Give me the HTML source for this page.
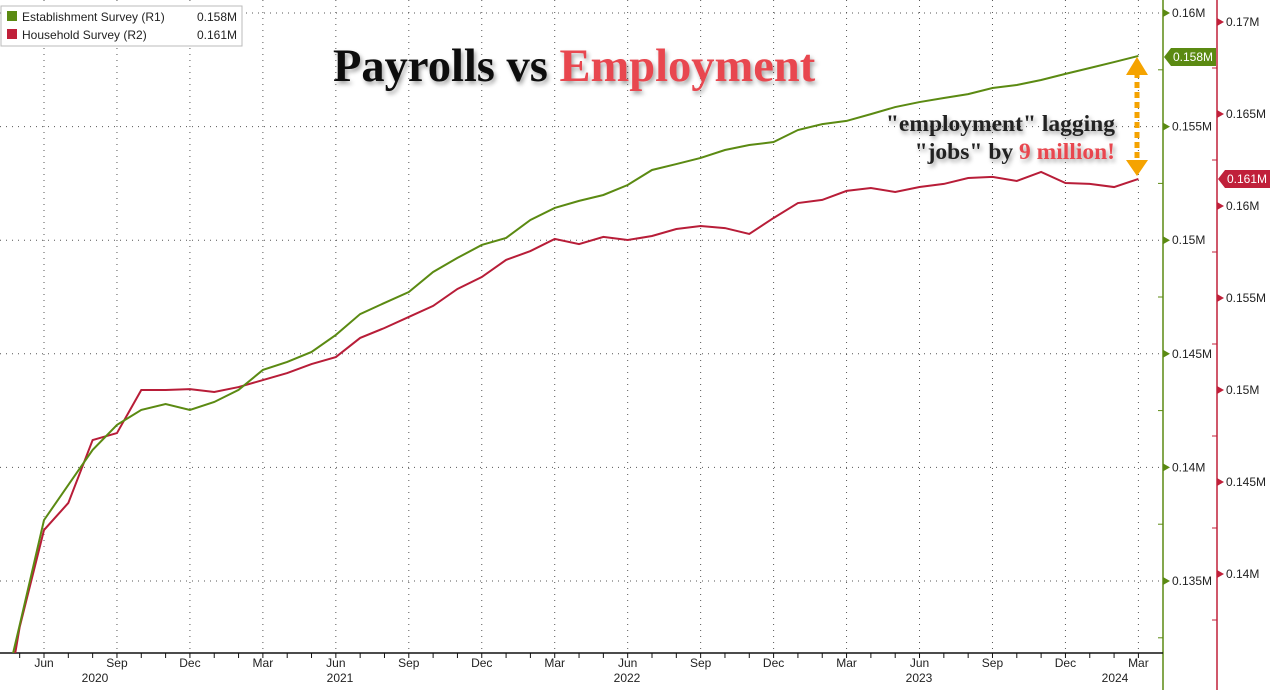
<!DOCTYPE html>
<html><head><meta charset="utf-8"><style>
html,body{margin:0;padding:0;overflow:hidden}
body{background:#fff;width:1271px;height:690px;font-family:"Liberation Sans",sans-serif}
svg{display:block}
svg text{font-family:"Liberation Sans",sans-serif}
</style></head><body>
<svg id="c" width="1271" height="690" xmlns="http://www.w3.org/2000/svg">
<defs><filter id="sh" x="-5%" y="-20%" width="110%" height="150%"><feDropShadow dx="2" dy="3" stdDeviation="2" flood-color="#000" flood-opacity="0.35"/></filter></defs>
<g id="grid"></g>
<g id="axes"></g>
<g id="series"></g>
<g id="legend">
<rect x="1" y="6" width="241" height="40" fill="#fff" stroke="#bbb"/>
<rect x="7" y="11" width="10" height="10" fill="#5b8a12"/>
<text x="22" y="21" font-size="12" fill="#222">Establishment Survey (R1)</text>
<text x="197" y="21" font-size="12" fill="#222">0.158M</text>
<rect x="7" y="29" width="10" height="10" fill="#c0203a"/>
<text x="22" y="39" font-size="12" fill="#222">Household Survey (R2)</text>
<text x="197" y="39" font-size="12" fill="#222">0.161M</text>
</g>
<text x="333" y="81" font-size="46.5" font-weight="bold" style="font-family:'Liberation Serif',serif" fill="#111" filter="url(#sh)">Payrolls vs <tspan fill="#e8474f">Employment</tspan></text>
<text x="1115" y="131" text-anchor="end" font-size="23.5" font-weight="bold" style="font-family:'Liberation Serif',serif" fill="#222" filter="url(#sh)">"employment" lagging</text>
<text x="1115" y="159" text-anchor="end" font-size="23.5" font-weight="bold" style="font-family:'Liberation Serif',serif" fill="#222" filter="url(#sh)">"jobs" by <tspan fill="#e8474f">9 million!</tspan></text>
<g>
<line x1="1137" y1="72" x2="1137" y2="162" stroke="#f5a300" stroke-width="5" stroke-dasharray="6,4"/>
<polygon points="1126,75 1148,75 1137,57" fill="#f5a300"/>
<polygon points="1126,160 1148,160 1137,176" fill="#f5a300"/>
</g>
</svg>
<script>
const months=["Apr 2020","May","Jun","Jul","Aug","Sep","Oct","Nov","Dec","Jan 2021","Feb","Mar","Apr","May","Jun","Jul","Aug","Sep","Oct","Nov","Dec","Jan 2022","Feb","Mar","Apr","May","Jun","Jul","Aug","Sep","Oct","Nov","Dec","Jan 2023","Feb","Mar","Apr","May","Jun","Jul","Aug","Sep","Oct","Nov","Dec","Jan 2024","Feb","Mar"];
const establishment=[128.5,133.06,137.68,139.23,140.77,141.87,142.53,142.79,142.53,142.88,143.41,144.29,144.64,145.08,145.83,146.75,147.24,147.72,148.60,149.22,149.79,150.10,150.89,151.42,151.73,151.99,152.43,153.09,153.35,153.62,153.97,154.19,154.32,154.85,155.11,155.25,155.55,155.86,156.08,156.26,156.43,156.70,156.83,157.05,157.32,157.58,157.84,158.11];
const household=[129.35,137.12,142.39,143.86,147.28,147.66,150.00,150.00,150.05,149.89,150.16,150.54,150.92,151.41,151.79,152.83,153.37,153.97,154.57,155.49,156.14,157.07,157.55,158.21,157.93,158.32,158.15,158.37,158.75,158.91,158.80,158.48,159.35,160.16,160.33,160.82,160.98,160.76,161.03,161.20,161.52,161.58,161.36,161.85,161.25,161.20,161.03,161.47];
const leftTicks=[135,140,145,150,155,160];
const rightTicks=[140,145,150,155,160,165,170];
const xTickLabels=["Jun","Sep","Dec","Mar"];
const yearLabels=["2020","2021","2022","2023","2024"];
const NS="http://www.w3.org/2000/svg";
const x=i=>44+(i-2)*24.32;
const yG=v=>13+(160-v)*113.6/5;
const yR=v=>22+(170-v)*92/5;
function mk(tag,attrs,parent){const e=document.createElementNS(NS,tag);for(const k in attrs)e.setAttribute(k,attrs[k]);parent.appendChild(e);return e;}
const grid=document.getElementById('grid'),axes=document.getElementById('axes'),ser=document.getElementById('series');
const lab=v=>'0.'+(v%10===0?String(v/10):String(v))+'M';
leftTicks.forEach(v=>{
 const y=yG(v);
 const l=mk('line',{x1:0,x2:1162,y1:y,y2:y,stroke:'#555','stroke-dasharray':'1,5'},grid);
 
 
 const p=mk('polygon',{points:`1163,${y-4} 1170,${y} 1163,${y+4}`,fill:'#5b8a12'},axes);
 
 
 const t=mk('text',{x:1172,y:y+4,'font-size':12,fill:'#222'},axes);
 t.textContent=lab(v);
 
 
 const m=mk('line',{x1:1158,x2:1163,y1:yG(v-2.5),y2:yG(v-2.5),stroke:'#5b8a12'},axes);
 
 
});
rightTicks.forEach(v=>{
 const y=yR(v);
 const p=mk('polygon',{points:`1217,${y-4} 1224,${y} 1217,${y+4}`,fill:'#c0203a'},axes);
 
 
 const t=mk('text',{x:1226,y:y+4,'font-size':12,fill:'#222'},axes);
 t.textContent=lab(v);
 
 
 const m=mk('line',{x1:1212,x2:1217,y1:yR(v-2.5),y2:yR(v-2.5),stroke:'#c0203a'},axes);
 
 
});
let a=mk('line',{x1:1163,x2:1163,y1:0,y2:690,stroke:'#5b8a12','stroke-width':1.5},axes);


a=mk('line',{x1:1217,x2:1217,y1:0,y2:690,stroke:'#c0203a','stroke-width':1.5},axes);


a=mk('line',{x1:0,x2:1163,y1:653,y2:653,stroke:'#111','stroke-width':1.5},axes);


months.forEach((m,i)=>{
 const xx=x(i);
 const tk=mk('line',{x1:xx,x2:xx,y1:653,y2:658,stroke:'#111'},axes);
 
 
 if((i-2)%3===0&&i>=2){
  const g=mk('line',{x1:xx,x2:xx,y1:0,y2:653,stroke:'#555','stroke-dasharray':'1,5'},grid);
  
  
  const t=mk('text',{x:xx,y:667,'font-size':12,'text-anchor':'middle',fill:'#222'},axes);
  t.textContent=xTickLabels[((i-2)/3)%4];
  
  
 }
});
[95,340,627,919,1115].forEach((px,k)=>{
 const t=mk('text',{x:px,y:682,'font-size':12,'text-anchor':'middle',fill:'#222'},axes);
 t.textContent=yearLabels[k];
 
 
});
const clip=mk('clipPath',{id:'pc'},document.getElementById('c'));mk('rect',{x:0,y:0,width:1162,height:653},clip);
const pl=mk('polyline',{points:household.map((v,i)=>x(i)+','+yR(v)).join(' '),fill:'none',stroke:'#b81d38','stroke-width':2,'clip-path':'url(#pc)'},ser);


const pg=mk('polyline',{points:establishment.map((v,i)=>x(i)+','+yG(v)).join(' '),fill:'none',stroke:'#5b8a12','stroke-width':2,'clip-path':'url(#pc)'},ser);


function tag(xl,y,col,txt,name){
 const g=mk('g',{},axes);
 
 
 mk('polygon',{points:`${xl},${y} ${xl+7},${y-9} ${xl+52},${y-9} ${xl+52},${y+9} ${xl+7},${y+9}`,fill:col},g);
 const t=mk('text',{x:xl+9,y:y+4,'font-size':12,fill:'#fff'},g);t.textContent=txt;
}
tag(1164,yG(establishment[establishment.length-1])+1,'#5b8a12','0.158M','green-last-value-tag');
tag(1218,yR(household[household.length-1]),'#c0203a','0.161M','red-last-value-tag');
</script>
</body></html>
